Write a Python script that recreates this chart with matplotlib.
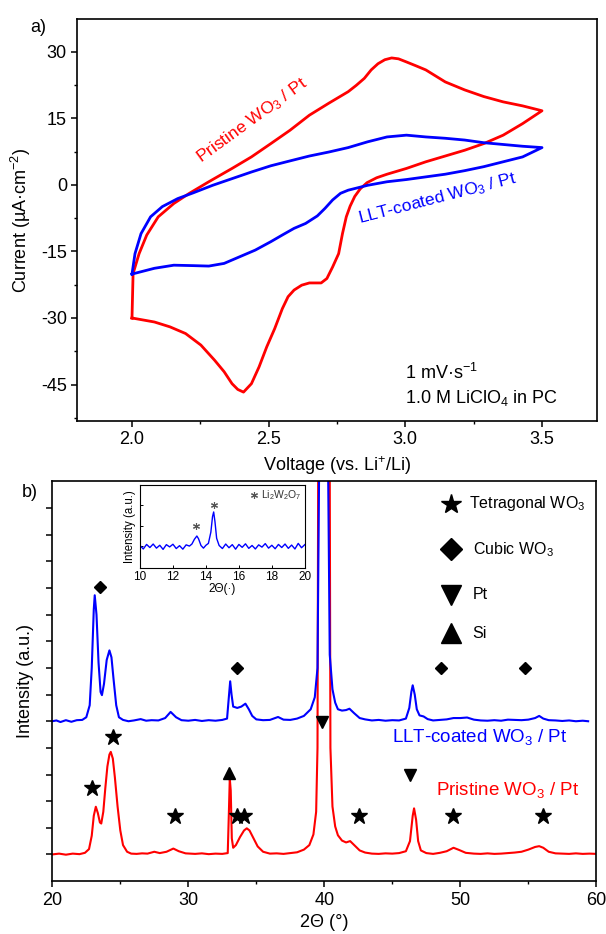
import numpy as np
import matplotlib
matplotlib.use('Agg')
import matplotlib.pyplot as plt
from matplotlib.ticker import MultipleLocator, NullFormatter

plt.rcParams['font.family'] = ['Liberation Sans', 'DejaVu Sans']
plt.rcParams['mathtext.fontset'] = 'custom'
plt.rcParams['mathtext.rm'] = 'Liberation Sans'
plt.rcParams['mathtext.default'] = 'regular'
plt.rcParams['axes.unicode_minus'] = False

# ── a) cyclic voltammetry (V, µA/cm²) ─────────────────────────────────────────
red_anodic_v = [2.000, 2.004, 2.026, 2.054, 2.096, 2.153, 2.210, 2.281, 2.366, 2.437,
                2.508, 2.578, 2.649, 2.720, 2.791, 2.820, 2.850, 2.875, 2.900, 2.925,
                2.950, 2.975, 3.004, 3.040, 3.075, 3.146, 3.217, 3.287, 3.358, 3.429,
                3.500]
red_anodic_i = [-30.0, -20.0, -15.5, -11.3, -7.2, -4.2, -1.9, 0.7, 3.7, 6.3,
                9.3, 12.3, 15.7, 18.4, 21.0, 22.4, 24.0, 25.9, 27.3, 28.2,
                28.6, 28.4, 27.7, 26.8, 25.9, 23.2, 21.4, 19.9, 18.7, 17.8,
                16.7]
red_cathodic_v = [3.500, 3.429, 3.358, 3.287, 3.217, 3.146, 3.075, 3.004, 2.933, 2.895,
                  2.860, 2.835, 2.815, 2.798, 2.784, 2.770, 2.756, 2.734, 2.713, 2.692,
                  2.649, 2.621, 2.593, 2.571, 2.550, 2.522, 2.493, 2.465, 2.437, 2.408,
                  2.387, 2.366, 2.337, 2.302, 2.252, 2.196, 2.139, 2.082, 2.000]
red_cathodic_i = [16.7, 13.8, 11.2, 9.3, 7.8, 6.5, 5.2, 3.7, 2.4, 1.6,
                  0.5, -0.9, -2.6, -4.8, -7.2, -11.0, -15.5, -18.5, -21.1, -22.1,
                  -22.1, -22.6, -23.7, -25.2, -27.9, -32.4, -36.5, -41.0, -44.8, -46.7,
                  -46.1, -44.8, -42.1, -39.5, -36.1, -33.5, -32.0, -30.9, -30.0]

blue_anodic_v = [2.000, 2.011, 2.033, 2.068, 2.111, 2.167, 2.224, 2.295, 2.366, 2.437,
                 2.508, 2.578, 2.649, 2.720, 2.791, 2.862, 2.933, 3.004, 3.075, 3.146,
                 3.217, 3.287, 3.358, 3.429, 3.500]
blue_anodic_i = [-20.1, -15.5, -11.0, -7.2, -4.9, -3.1, -1.8, -0.1, 1.4, 2.9,
                 4.3, 5.4, 6.5, 7.4, 8.4, 9.7, 10.8, 11.2, 10.8, 10.5,
                 10.1, 9.5, 9.1, 8.7, 8.4]
blue_cathodic_v = [3.500, 3.429, 3.358, 3.287, 3.217, 3.146, 3.075, 3.004, 2.933, 2.862,
                   2.791, 2.763, 2.734, 2.706, 2.678, 2.635, 2.593, 2.550, 2.508, 2.451,
                   2.394, 2.337, 2.281, 2.224, 2.153, 2.082, 2.000]
blue_cathodic_i = [8.4, 6.3, 5.2, 4.1, 3.2, 2.4, 1.8, 1.2, 0.7, -0.1,
                   -1.2, -1.9, -3.4, -5.3, -7.0, -8.7, -9.8, -11.3, -12.8, -14.7,
                   -16.2, -17.7, -18.3, -18.2, -18.1, -18.8, -20.1]

# ── b) XRD (2θ, intensity in a.u.; LLT trace already offset) ─────────────────
xrd_pristine = [
    (20.0, 0.00), (20.5, 0.03), (21.0, -0.01), (21.5, 0.03), (22.0, 0.01), (22.4, 0.06),
    (22.7, 0.20), (22.9, 0.70), (23.05, 1.45), (23.2, 1.79), (23.35, 1.55), (23.5, 1.20),
    (23.6, 1.16), (23.75, 1.60), (23.9, 2.50), (24.05, 3.30), (24.2, 3.75), (24.3, 3.85),
    (24.45, 3.60), (24.6, 2.90), (24.8, 1.80), (25.0, 0.90), (25.2, 0.35), (25.5, 0.10),
    (25.8, 0.03), (26.2, 0.02), (26.6, 0.04), (27.0, 0.03), (27.5, 0.10), (27.9, 0.05),
    (28.4, 0.10), (28.9, 0.22), (29.3, 0.12), (29.8, 0.04), (30.5, 0.02), (31.0, 0.04),
    (31.5, 0.01), (32.0, 0.03), (32.5, 0.02), (32.9, 0.05), (32.98, 1.50), (33.05, 2.85),
    (33.12, 2.40), (33.2, 0.60), (33.3, 0.25), (33.5, 0.35), (33.8, 0.65), (34.1, 0.90),
    (34.3, 0.98), (34.5, 0.90), (34.8, 0.60), (35.1, 0.30), (35.5, 0.10), (36.0, 0.03),
    (36.5, 0.04), (37.0, 0.02), (37.5, 0.05), (38.0, 0.08), (38.5, 0.18), (38.9, 0.35),
    (39.2, 0.75), (39.4, 1.60), (39.5, 4.00), (39.55, 14.5), (39.65, 30.0), (40.3, 30.0),
    (40.4, 14.5), (40.45, 4.00), (40.6, 1.80), (40.8, 1.05), (41.0, 0.72), (41.3, 0.52),
    (41.6, 0.45), (41.9, 0.50), (42.2, 0.35), (42.6, 0.15), (43.0, 0.07), (43.5, 0.03),
    (44.0, 0.02), (44.5, 0.04), (45.0, 0.03), (45.5, 0.05), (46.0, 0.12), (46.3, 0.50),
    (46.5, 1.45), (46.6, 1.73), (46.75, 1.30), (46.9, 0.50), (47.1, 0.15), (47.5, 0.05),
    (48.0, 0.02), (48.5, 0.06), (49.0, 0.12), (49.5, 0.25), (49.9, 0.17), (50.4, 0.06),
    (51.0, 0.03), (51.5, 0.02), (52.0, 0.04), (52.5, 0.02), (53.0, 0.03), (53.5, 0.05),
    (54.0, 0.07), (54.5, 0.10), (55.0, 0.18), (55.5, 0.28), (55.8, 0.31), (56.1, 0.25),
    (56.5, 0.10), (57.0, 0.04), (57.5, 0.03), (58.0, 0.02), (58.5, 0.04), (59.0, 0.02),
    (59.5, 0.03), (60.0, 0.02)]

xrd_llt = [
    (20.0, 5.00), (20.3, 5.03), (20.6, 4.97), (21.0, 5.04), (21.4, 4.98), (21.8, 5.04),
    (22.2, 5.05), (22.5, 5.15), (22.75, 5.60), (22.9, 7.00), (23.05, 9.20), (23.12, 9.73),
    (23.25, 9.00), (23.4, 7.20), (23.55, 6.10), (23.65, 5.98), (23.8, 6.40), (24.0, 7.30),
    (24.2, 7.66), (24.35, 7.40), (24.5, 6.60), (24.7, 5.60), (24.9, 5.15), (25.2, 5.05),
    (25.6, 5.00), (26.0, 5.03), (26.5, 5.08), (26.9, 5.02), (27.3, 5.04), (27.8, 5.03),
    (28.3, 5.12), (28.7, 5.35), (29.1, 5.15), (29.5, 5.04), (30.0, 5.02), (30.5, 5.05),
    (31.0, 5.01), (31.5, 5.04), (32.0, 5.02), (32.5, 5.05), (32.85, 5.10), (32.98, 5.90),
    (33.08, 6.50), (33.18, 6.00), (33.3, 5.55), (33.6, 5.50), (33.9, 5.55), (34.2, 5.66),
    (34.45, 5.45), (34.7, 5.20), (35.0, 5.07), (35.5, 5.04), (36.0, 5.05), (36.6, 5.16),
    (37.0, 5.06), (37.5, 5.05), (38.0, 5.10), (38.5, 5.20), (39.0, 5.45), (39.3, 5.90),
    (39.5, 7.00), (39.62, 14.5), (39.72, 30.0), (40.18, 30.0), (40.28, 14.5), (40.4, 7.50),
    (40.6, 6.20), (40.8, 5.70), (41.0, 5.45), (41.3, 5.40), (41.6, 5.42), (41.85, 5.47),
    (42.2, 5.30), (42.6, 5.12), (43.0, 5.07), (43.5, 5.03), (44.0, 5.05), (44.5, 5.02),
    (45.0, 5.04), (45.5, 5.03), (46.0, 5.10), (46.25, 5.50), (46.4, 6.10), (46.5, 6.35),
    (46.65, 6.00), (46.8, 5.45), (47.0, 5.22), (47.3, 5.18), (47.6, 5.08), (48.0, 5.03),
    (48.5, 5.05), (49.0, 5.07), (49.5, 5.12), (50.0, 5.12), (50.5, 5.14), (51.0, 5.06),
    (51.5, 5.03), (52.0, 5.02), (52.5, 5.04), (53.0, 5.02), (53.5, 5.06), (54.0, 5.05),
    (54.5, 5.04), (55.0, 5.06), (55.5, 5.12), (55.8, 5.20), (56.1, 5.10), (56.5, 5.04),
    (57.0, 5.03), (57.5, 5.01), (58.0, 5.03), (58.5, 5.00), (59.0, 5.02), (59.4, 5.00)]

# inset, low angle scan of LLT-coated film
xrd_inset = [
    (10.0, 0.05), (10.2, -0.12), (10.4, 0.10), (10.6, -0.05), (10.8, 0.12), (11.0, -0.08),
    (11.2, 0.06), (11.4, -0.14), (11.6, 0.09), (11.8, -0.02), (12.0, 0.11), (12.2, -0.10),
    (12.4, 0.04), (12.6, -0.13), (12.8, 0.08), (13.0, 0.02), (13.15, 0.12), (13.3, 0.35),
    (13.45, 0.51), (13.55, 0.38), (13.7, 0.05), (13.85, -0.08), (14.0, 0.06), (14.15, 0.15),
    (14.3, 0.70), (14.4, 1.45), (14.47, 1.68), (14.55, 1.20), (14.65, 0.40), (14.8, 0.05),
    (15.0, -0.10), (15.2, 0.12), (15.4, -0.06), (15.6, 0.09), (15.8, -0.13), (16.0, 0.10),
    (16.2, -0.04), (16.4, 0.13), (16.6, -0.09), (16.8, 0.05), (17.0, -0.12), (17.2, 0.08),
    (17.4, -0.03), (17.6, 0.14), (17.8, -0.08), (18.0, 0.06), (18.2, -0.11), (18.4, 0.10),
    (18.6, -0.05), (18.8, 0.12), (19.0, -0.09), (19.2, 0.07), (19.4, -0.12), (19.6, 0.15),
    (19.8, -0.06), (20.0, 0.09)]
inset_li2w2o7 = [(13.4, 1.0), (14.47, 2.0)]

# phase markers (2θ, height)
tetragonal = [(24.45, 4.39), (22.93, 2.50), (29.0, 1.45), (33.55, 1.45), (34.12, 1.45),
              (42.53, 1.45), (49.46, 1.45), (56.08, 1.45)]
cubic = [(23.5, 10.04), (33.58, 7.0), (48.55, 7.0), (54.74, 7.0)]
pt_peaks = [(39.8, 4.98), (46.28, 2.98)]
si_peaks = [(33.0, 3.04)]

RED = '#ff0000'
BLUE = '#0000ff'

fig = plt.figure(figsize=(6.06, 9.34), dpi=100)

# ── painel a ──────────────────────────────────────────────────────────────────
ax1 = fig.add_axes([0.1276, 0.5493, 0.857, 0.430])
ax1.plot(red_anodic_v + red_cathodic_v, red_anodic_i + red_cathodic_i,
         color=RED, lw=2.0, solid_joinstyle='round')
ax1.plot(blue_anodic_v + blue_cathodic_v, blue_anodic_i + blue_cathodic_i,
         color=BLUE, lw=2.0, solid_joinstyle='round')

ax1.text(2.438, 14.6, 'Pristine WO$_3$ / Pt', color=RED, fontsize=12.5,
         rotation=36, ha='center', va='center', rotation_mode='anchor')
ax1.text(3.118, -3.2, 'LLT-coated WO$_3$ / Pt', color=BLUE, fontsize=12.5,
         rotation=14.5, ha='center', va='center', rotation_mode='anchor')
ax1.text(3.0, -43.7, '1 mV·s$^{-1}$', fontsize=13)
ax1.text(3.0, -49.1, '1.0 M LiClO$_4$ in PC', fontsize=13)

ax1.set_xlim(1.8, 3.7)
ax1.set_ylim(-53.2, 37.3)
ax1.set_xticks([2.0, 2.5, 3.0, 3.5])
ax1.set_yticks([-45, -30, -15, 0, 15, 30])
ax1.xaxis.set_minor_locator(MultipleLocator(0.25))
ax1.yaxis.set_minor_locator(MultipleLocator(7.5))
ax1.set_xlabel('Voltage (vs. Li$^{+}$/Li)', fontsize=13)
ax1.set_ylabel('Current (µA·cm$^{-2}$)', fontsize=13, labelpad=6)

# ── painel b ──────────────────────────────────────────────────────────────────
ax2 = fig.add_axes([0.0863, 0.0564, 0.8977, 0.4289])
tt, inten = zip(*xrd_pristine)
ax2.plot(tt, inten, color=RED, lw=1.5)
tt, inten = zip(*xrd_llt)
ax2.plot(tt, inten, color=BLUE, lw=1.5)

for pts, mk, ms in [(tetragonal, '*', 12), (cubic, 'D', 6),
                    (pt_peaks, 'v', 8.5), (si_peaks, '^', 8.5)]:
    x, y = zip(*pts)
    ax2.plot(x, y, ls='none', marker=mk, ms=ms, color='black')

# legenda das fases
ax2.plot(49.3, 13.16, marker='*', ms=14.5, color='black')
ax2.plot(49.3, 11.45, marker='D', ms=11, color='black')
ax2.plot(49.3, 9.73, marker='v', ms=14, color='black')
ax2.plot(49.3, 8.31, marker='^', ms=14, color='black')
ax2.text(50.66, 13.16, 'Tetragonal WO$_3$', fontsize=11.5, va='center')
ax2.text(50.96, 11.45, 'Cubic WO$_3$', fontsize=11.5, va='center')
ax2.text(50.9, 9.76, 'Pt', fontsize=11.5, va='center')
ax2.text(50.9, 8.29, 'Si', fontsize=11.5, va='center')

ax2.text(44.97, 4.4, 'LLT-coated WO$_3$ / Pt', color=BLUE, fontsize=13.5, va='center')
ax2.text(48.24, 2.41, 'Pristine WO$_3$ / Pt', color=RED, fontsize=13.5, va='center')

ax2.set_xlim(20, 60)
ax2.set_ylim(-1.01, 14.03)
ax2.set_xticks([20, 30, 40, 50, 60])
ax2.xaxis.set_minor_locator(MultipleLocator(5))
ax2.set_yticks(np.arange(0, 14))
ax2.yaxis.set_major_formatter(NullFormatter())
ax2.set_xlabel('2Θ (°)', fontsize=13)
ax2.set_ylabel('Intensity (a.u.)', fontsize=13, labelpad=6)

for ax in (ax1, ax2):
    for s in ax.spines.values():
        s.set_linewidth(1.2)
    ax.tick_params(which='major', direction='out', length=4, width=1.1, labelsize=13)
    ax.tick_params(which='minor', direction='out', length=2.5, width=1.0)

# ── inset ─────────────────────────────────────────────────────────────────────
axi = fig.add_axes([0.231, 0.392, 0.272, 0.0889])
tt, inten = zip(*xrd_inset)
axi.plot(tt, inten, color=BLUE, lw=1.0)
x, y = zip(*inset_li2w2o7)
axi.plot(x, y, ls='none', marker=(6, 2, 0), ms=5, color='#555555', mew=0.8)
axi.plot(16.92, 2.52, marker=(6, 2, 0), ms=5, color='#555555', mew=0.8)
axi.text(17.35, 2.52, 'Li$_2$W$_2$O$_7$', fontsize=7.5, va='center', color='#333333')
axi.set_xlim(10, 20)
axi.set_ylim(-1.04, 3.0)
axi.set_xticks([10, 12, 14, 16, 18, 20])
axi.set_yticks([0, 1, 2])
axi.yaxis.set_major_formatter(NullFormatter())
axi.tick_params(direction='in', length=2.5, width=0.7, labelsize=8.5, pad=2)
axi.set_xlabel('2Θ(·)', fontsize=8.5, labelpad=0)
axi.set_ylabel('Intensity (a.u.)', fontsize=8.3, labelpad=1)
for s in axi.spines.values():
    s.set_linewidth(0.8)

fig.text(0.0627, 0.971, 'a)', fontsize=13, ha='center', va='center')
fig.text(0.0495, 0.4732, 'b)', fontsize=13, ha='center', va='center')

fig.savefig('out.png', dpi=100)
